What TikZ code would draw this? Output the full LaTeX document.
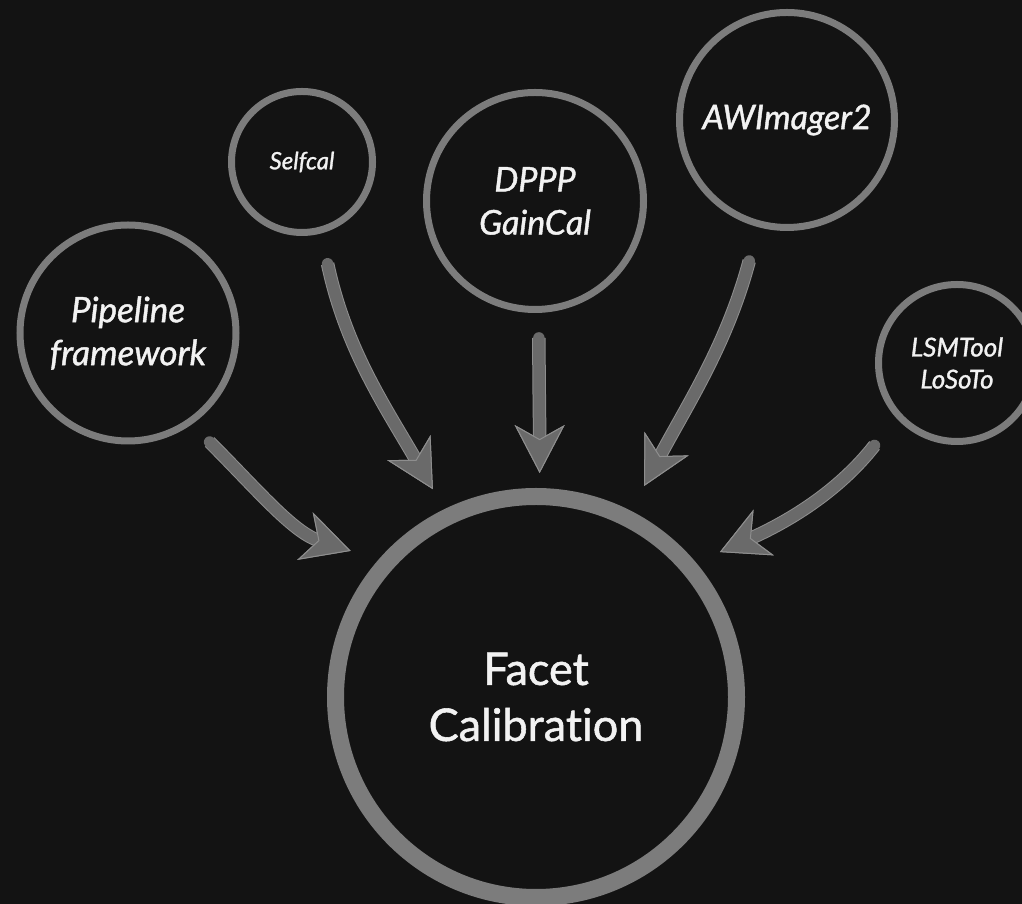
\documentclass[tikz,border=0pt]{standalone}
\usepackage{fontspec}
\setmainfont{Lato}
\newfontfamily\labelfont{Lato}[FakeBold=1.2,Ligatures=NoCommon]
\usetikzlibrary{arrows.meta}
\usetikzlibrary{positioning}
\definecolor{bggray}{HTML}{131313}
\definecolor{ringgray}{HTML}{7C7C7C}
\definecolor{arrowgray}{HTML}{6A6A6A}
\definecolor{edgegray}{HTML}{8E8E8E}
\definecolor{textwhite}{HTML}{F2F2F2}
\tikzset{tool node/.style={circle,draw=ringgray,line width=7pt,inner sep=0pt,text=textwhite,align=center},
  big node/.style={circle,draw=ringgray,line width=17pt,minimum size=401pt,inner sep=0pt,text=textwhite,align=center},
  flow/.style={draw=arrowgray,line width=11.5pt,line cap=round,
    -{Stealth[length=48pt,width=50pt,inset=14pt,fill=arrowgray,color=edgegray,line width=1pt]},
    preaction={draw=edgegray,line width=13.5pt}},}

\begin{document}
\begin{tikzpicture}[x=1pt,y=1pt]
   \fill[bggray] (0,0) rectangle (1022,904);
   \useasboundingbox (0,0) rectangle (1022,904);

   \node[big node,font=\labelfont\fontsize{45}{56}\selectfont] (fc) at (536,207) {Facet\\Calibration};
   \node[tool node,minimum size=216pt,font=\labelfont\itshape\fontsize{35}{43}\selectfont] (pipe) at (128,571) {Pipeline\\framework};
   \node[tool node,minimum size=141pt,font=\labelfont\itshape\fontsize{24}{26}\selectfont] (self) at (302,742) {Selfcal};
   \node[tool node,minimum size=217pt,font=\labelfont\itshape\fontsize{34}{43}\selectfont] (dppp) at (535,703) {DPPP\\GainCal};
   \node[tool node,minimum size=215pt,font=\labelfont\itshape\fontsize{34}{43}\selectfont] (awi) at (787,784) {AWImager2};
   \node[tool node,minimum size=157pt,font=\labelfont\itshape\fontsize{26}{32}\selectfont] (lsm) at (957,541) {LSMTool\\LoSoTo};

   \path[every edge/.style={flow}]
   (pipe.-55) edge[out=-45,in=162,shorten <=25pt,shorten >=29pt] (fc.139)
   (self.-75) edge[out=-78,in=120,shorten <=31pt,shorten >=23pt] (fc.116)
   (dppp.-88) edge[out=-90,in=90,shorten <=25pt,shorten >=15pt] (fc.89)
   (awi.-105) edge[out=-105,in=62,shorten <=35pt,shorten >=28pt] (fc.63)
   (lsm.-138) edge[out=-128,in=24,shorten <=35pt,shorten >=26pt] (fc.40);
\end{tikzpicture}
\end{document}
